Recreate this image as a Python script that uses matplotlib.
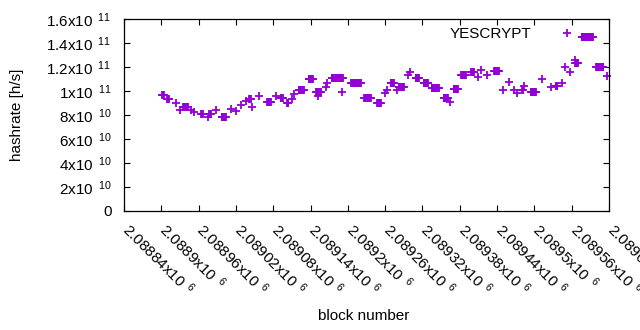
import numpy as np
import matplotlib
matplotlib.use("Agg")
import matplotlib.pyplot as plt
from matplotlib.ticker import FuncFormatter, MultipleLocator
from matplotlib.transforms import ScaledTranslation

plt.rcParams['font.family'] = ['Liberation Sans', 'DejaVu Sans']
plt.rcParams['mathtext.fontset'] = 'custom'
plt.rcParams['mathtext.rm'] = 'Liberation Sans'
plt.rcParams['mathtext.it'] = 'Liberation Sans'

# runs of blocks with the same hashrate estimate: first block, last block, value [1e9 h/s]
run_first = [2088901, 2088909, 2088924, 2088930, 2088935, 2088948, 2088952, 2088964,
             2088975, 2088977, 2088988, 2088997, 2089012, 2089020, 2089028, 2089036,
             2089041, 2089046, 2089057, 2089070, 2089084, 2089092, 2089102, 2089110,
             2089113, 2089121, 2089137, 2089149, 2089152, 2089165, 2089166, 2089174,
             2089190, 2089205, 2089226, 2089247, 2089259, 2089263, 2089269, 2089279,
             2089282, 2089296, 2089300, 2089309, 2089322, 2089335, 2089354, 2089364,
             2089370, 2089382, 2089398, 2089409, 2089414, 2089423, 2089435, 2089449,
             2089459, 2089468, 2089472, 2089480, 2089484, 2089494, 2089513, 2089526,
             2089534, 2089545, 2089550, 2089557, 2089566, 2089566, 2089576, 2089599,
             2089616]
run_last = [2088904, 2088912, 2088924, 2088930, 2088943, 2088948, 2088952, 2088967,
            2088975, 2088980, 2088988, 2089004, 2089012, 2089020, 2089028, 2089036,
            2089044, 2089046, 2089057, 2089076, 2089084, 2089095, 2089104, 2089110,
            2089113, 2089129, 2089144, 2089157, 2089152, 2089165, 2089166, 2089192,
            2089190, 2089221, 2089237, 2089253, 2089259, 2089263, 2089274, 2089279,
            2089290, 2089296, 2089300, 2089314, 2089329, 2089346, 2089361, 2089364,
            2089377, 2089390, 2089403, 2089409, 2089414, 2089423, 2089443, 2089449,
            2089459, 2089468, 2089472, 2089481, 2089484, 2089502, 2089513, 2089526,
            2089537, 2089545, 2089550, 2089557, 2089570, 2089566, 2089594, 2089611,
            2089616]
run_value = [96.7, 93.1, 89.7, 84.2, 86.4, 84.2, 82.7, 80.6,
             78.6, 80.6, 84.2, 78.6, 84.7, 83.6, 88.3, 91.9,
             93.1, 86.9, 96.1, 91.1, 95.8, 93.9, 89.7, 93.1,
             97.5, 100.8, 109.7, 99.4, 95.8, 103.6, 106.4, 110.6,
             99.4, 106.4, 93.9, 89.7, 98.1, 100.8, 106.4, 100.8,
             103.6, 113.3, 116.1, 110.6, 106.4, 102.2, 93.9, 91.1,
             101.4, 113.3, 115.6, 111.7, 117.5, 113.3, 116.9, 100.8,
             107.7, 100.8, 98.1, 100.8, 104.4, 99.4, 109.7, 103.6,
             104.2, 106.9, 120.2, 116.1, 123.6, 125.8, 145.2, 120.2,
             112.5]

blocks = []
rates = []
for a, b, v in zip(run_first, run_last, run_value):
    n = np.arange(a, b + 1)
    blocks.extend(n)
    rates.extend([v * 1e9] * len(n))
blocks = np.array(blocks)
rates = np.array(rates)

def sci(v, pos=None):
    if v == 0:
        return "0"
    e = int(np.floor(np.log10(abs(v)) + 1e-9))
    m = v / 10 ** e
    return "%gx10$^{\\ \\ %d}$" % (round(m, 6), e)

fig = plt.figure(figsize=(6.4, 3.3), dpi=100)
W, H = 640.0, 330.0
ax = fig.add_axes([124 / W, 1 - 211 / H, (609 - 124) / W, (211 - 19) / H])

color = '#9400D3'
ax.plot(blocks, rates, linestyle='none', marker='+', markersize=5.6,
        markeredgewidth=1.3, color=color, label='YESCRYPT', clip_on=False)

ax.set_xlim(2088840, 2089620)
ax.set_ylim(0, 1.6e11)
ax.xaxis.set_major_locator(MultipleLocator(60))
ax.yaxis.set_major_locator(MultipleLocator(2e10))
ax.xaxis.set_major_formatter(FuncFormatter(sci))
ax.yaxis.set_major_formatter(FuncFormatter(sci))

ax.tick_params(direction='in', length=4, width=0.8, top=True, right=True,
               labelsize=11, colors='black')
ax.tick_params(axis='y', pad=9)
ax.tick_params(axis='x', pad=9)
shift = ScaledTranslation(8 / 100, 4 / 100, fig.dpi_scale_trans)
for tick in ax.xaxis.get_major_ticks():
    lab = tick.label1
    lab.set_rotation(-45)
    lab.set_ha('left')
    lab.set_va('top')
    lab.set_rotation_mode('anchor')
    lab.set_transform(lab.get_transform() + shift)
for s in ax.spines.values():
    s.set_linewidth(0.9)

fig.text(364 / W, 1 - 316 / H, 'block number', ha='center', va='center', fontsize=11)
fig.text(17 / W, 1 - 115 / H, 'hashrate [h/s]', ha='center', va='center',
         rotation=90, fontsize=11)

ax.legend(loc='upper right', bbox_to_anchor=(0.957, 0.99), borderaxespad=0,
          frameon=False, markerfirst=False, handlelength=2, handletextpad=1.3,
          fontsize=11)

fig.savefig('out.png', dpi=100)
